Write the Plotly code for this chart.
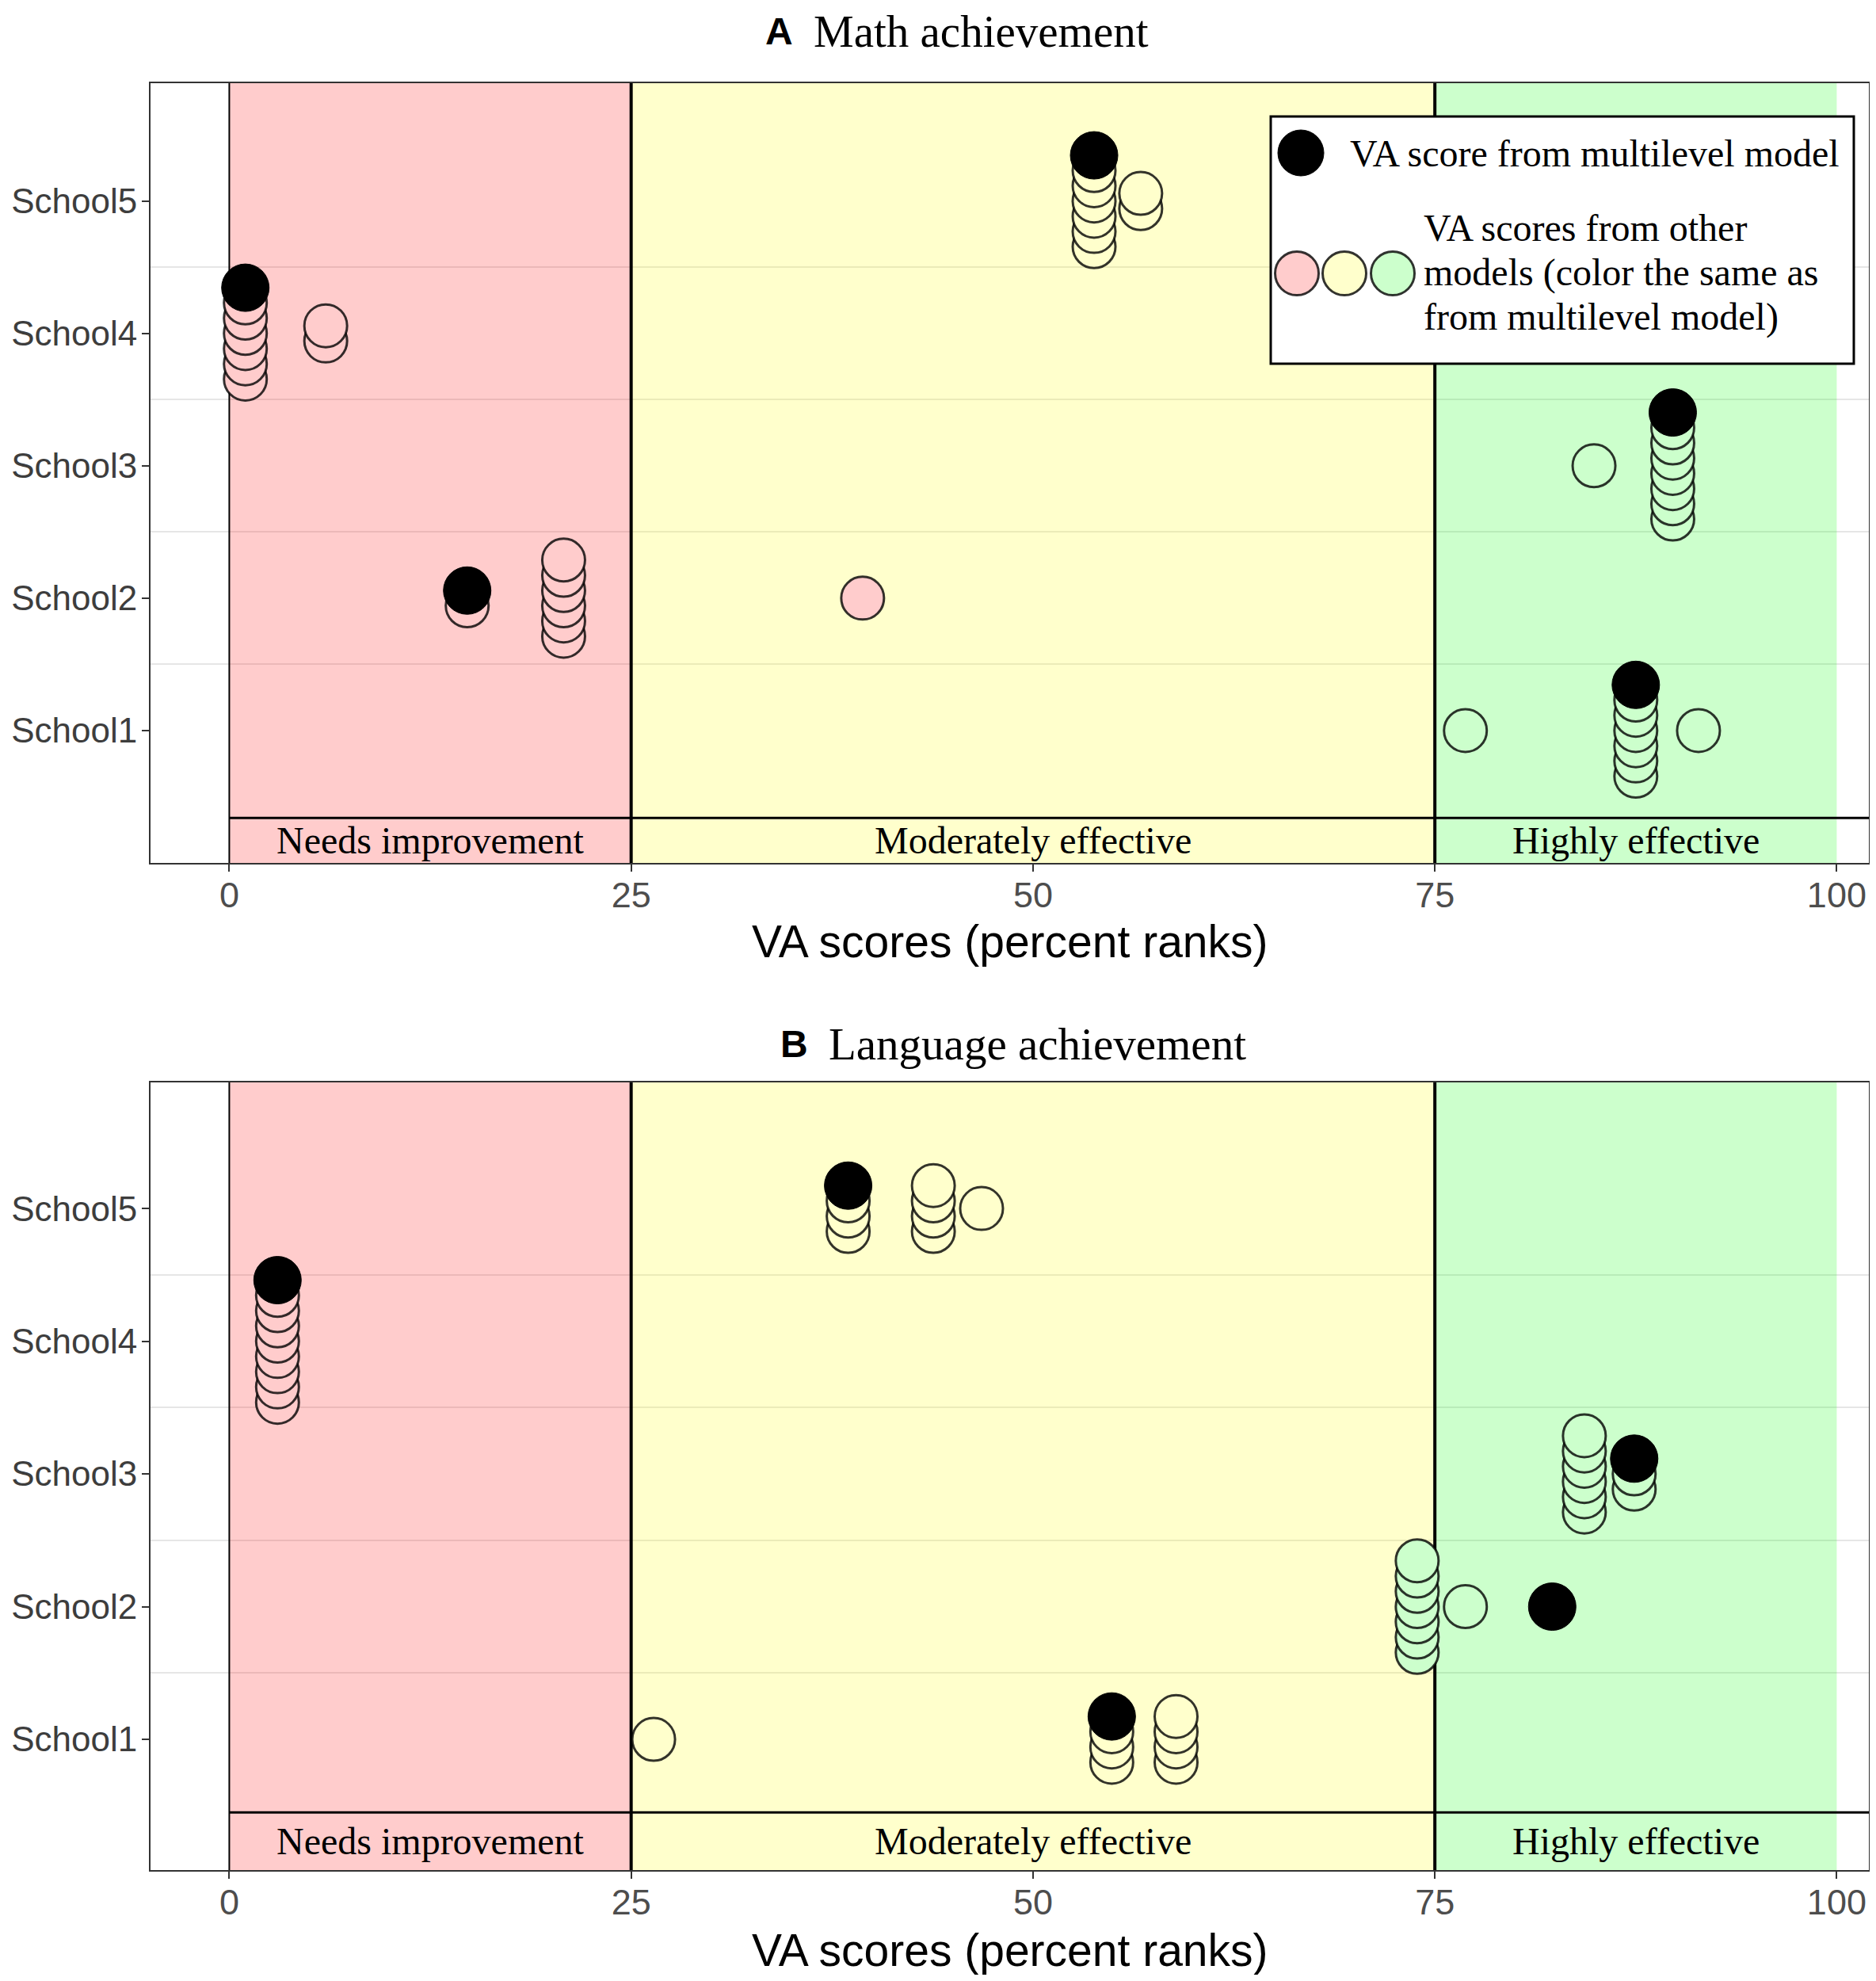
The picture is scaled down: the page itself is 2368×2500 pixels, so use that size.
import plotly.graph_objects as go
from plotly.subplots import make_subplots

# Schools (y categories) and effectiveness bands on the percent-rank axis
schools = ["School1", "School2", "School3", "School4", "School5"]
band_edges = [0, 25, 75, 100]
band_labels = ["Needs improvement", "Moderately effective", "Highly effective"]
band_colors = ["rgba(255,0,0,0.2)", "rgba(255,255,0,0.2)", "rgba(0,255,0,0.2)"]
dot_colors = ["#FFCCCC", "#FFFFCC", "#CCFFCC"]
x_ticks = [0, 25, 50, 75, 100]

# Math achievement: VA score from the multilevel model, one per school
math_multilevel = [87.5, 14.8, 89.8, 1.0, 53.8]
# VA scores from the 8 other models, per school
math_other = [
    [76.9, 87.5, 87.5, 87.5, 87.5, 87.5, 87.5, 91.4],
    [14.8, 20.8, 20.8, 20.8, 20.8, 20.8, 20.8, 39.4],
    [84.9, 89.8, 89.8, 89.8, 89.8, 89.8, 89.8, 89.8],
    [1.0, 1.0, 1.0, 1.0, 1.0, 1.0, 6.0, 6.0],
    [53.8, 53.8, 53.8, 53.8, 53.8, 53.8, 56.7, 56.7],
]

# Language achievement
lang_multilevel = [54.9, 82.3, 87.4, 3.0, 38.5]
lang_other = [
    [26.4, 54.9, 54.9, 54.9, 58.9, 58.9, 58.9, 58.9],
    [73.9, 73.9, 73.9, 73.9, 73.9, 73.9, 73.9, 76.9],
    [84.3, 84.3, 84.3, 84.3, 84.3, 84.3, 87.4, 87.4],
    [3.0, 3.0, 3.0, 3.0, 3.0, 3.0, 3.0, 3.0],
    [38.5, 38.5, 38.5, 43.8, 43.8, 43.8, 43.8, 46.8],
]

PAGE_W, PAGE_H = 2368, 2500
OFF = 8  # default body margin of the html page
W, H = PAGE_W - 2 * OFF, PAGE_H - 2 * OFF
SERIF = "Liberation Serif"
SANS = "Liberation Sans"
X_RANGE = [-4.9, 102.0]
STEP = 0.115  # vertical stacking step between equal scores


# page pixel -> paper coordinates
def px(x):
    return min(max((x - OFF) / W, 0.0), 1.0)


def py(y):
    return min(max(1 - (y - OFF) / H, 0.0), 1.0)


def band_of(v):
    for i in range(len(band_labels)):
        if v < band_edges[i + 1]:
            return i
    return len(band_labels) - 1


def stack(multi, others):
    """Stack equal scores vertically around each school, multilevel dot on top."""
    oth, blk = [], []
    for i, (m, vals) in enumerate(zip(multi, others)):
        fill = dot_colors[band_of(m)]
        for v in sorted(set(vals + [m])):
            has_black = v == m
            n = vals.count(v) + int(has_black)
            for k in range(n):
                y = i + 1 + STEP * ((n - 1) / 2 - k)
                if has_black and k == 0:
                    blk.append((v, y))
                else:
                    oth.append((v, y, fill))
    oth.sort(key=lambda t: t[1])  # draw lower circles first
    return oth, blk


panels = [
    dict(title_tag="A", title="Math achievement", multi=math_multilevel, others=math_other,
         y_range=[0.0, 5.89], strip_top=0.34, domain=[py(1089), py(105)],
         title_y=40, tag_right=1003, axis_title_y=1188),
    dict(title_tag="B", title="Language achievement", multi=lang_multilevel, others=lang_other,
         y_range=[0.015, 5.95], strip_top=0.45, domain=[py(2360), py(1366)],
         title_y=1317, tag_right=1022, axis_title_y=2461),
]

fig = make_subplots(rows=2, cols=1)
shapes, annotations = [], []

for r, p in enumerate(panels, start=1):
    xref = "x" if r == 1 else "x2"
    yref = "y" if r == 1 else "y2"
    oth, blk = stack(p["multi"], p["others"])

    fig.add_trace(go.Scatter(
        x=[t[0] for t in oth], y=[t[1] for t in oth], mode="markers",
        marker=dict(size=54, color=[t[2] for t in oth],
                    line=dict(color="rgba(0,0,0,0.8)", width=3)),
        showlegend=False, hoverinfo="skip"), row=r, col=1)
    fig.add_trace(go.Scatter(
        x=[t[0] for t in blk], y=[t[1] for t in blk], mode="markers",
        marker=dict(size=60, color="black", line=dict(color="black", width=1)),
        showlegend=False, hoverinfo="skip"), row=r, col=1)

    y0, y1 = p["y_range"]
    st = p["strip_top"]
    for i, lab in enumerate(band_labels):
        lo, hi = band_edges[i], band_edges[i + 1]
        # coloured band and its strip
        shapes.append(dict(type="rect", xref=xref, yref=yref, x0=lo, x1=hi, y0=y0, y1=y1,
                           fillcolor=band_colors[i], line=dict(width=0), layer="between"))
        annotations.append(dict(xref=xref, yref=yref, x=(lo + hi) / 2, y=(y0 + st) / 2,
                                text=lab, showarrow=False,
                                font=dict(family=SERIF, size=48, color="black")))
    # boundary lines
    shapes.append(dict(type="line", xref=xref, yref=yref, x0=0, x1=0, y0=y0, y1=y1,
                       line=dict(color="black", width=2), layer="between"))
    for b in band_edges[1:-1]:
        shapes.append(dict(type="line", xref=xref, yref=yref, x0=b, x1=b, y0=y0, y1=y1,
                           line=dict(color="black", width=4), layer="between"))
    shapes.append(dict(type="line", xref=xref, yref=yref, x0=0, x1=X_RANGE[1], y0=st, y1=st,
                       line=dict(color="black", width=3), layer="between"))

    # panel title: bold sans tag + serif title
    annotations.append(dict(xref="paper", yref="paper", x=px(p["tag_right"]), y=py(p["title_y"]),
                            xanchor="right", yanchor="middle", text="<b>" + p["title_tag"] + "</b>",
                            showarrow=False, font=dict(family=SANS, size=48, color="black")))
    annotations.append(dict(xref="paper", yref="paper", x=px(p["tag_right"] + 22), y=py(p["title_y"]),
                            xanchor="left", yanchor="middle", text=p["title"],
                            showarrow=False, font=dict(family=SERIF, size=57, color="black")))
    annotations.append(dict(xref="paper", yref="paper", x=px((190 + 2359) / 2), y=py(p["axis_title_y"]),
                            xanchor="center", yanchor="middle", text="VA scores (percent ranks)",
                            showarrow=False, font=dict(family=SANS, size=57, color="black")))

    axis_common = dict(showline=True, mirror=True, linecolor="#333333", linewidth=2,
                       ticks="outside", ticklen=9, tickwidth=2, tickcolor="#333333",
                       zeroline=False, automargin=False)
    fig.update_xaxes(range=X_RANGE, tickvals=x_ticks, showgrid=False, ticklabelstandoff=-9,
                     tickfont=dict(family=SANS, size=45, color="#4D4D4D"),
                     domain=[px(190), px(2359)], **axis_common, row=r, col=1)
    fig.update_yaxes(range=p["y_range"], tickvals=[1, 2, 3, 4, 5], ticktext=schools,
                     showgrid=False, domain=p["domain"], ticklabelstandoff=-3,
                     tickfont=dict(family=SANS, size=44, color="#3D3D3D"),
                     minor=dict(tickvals=[1.5, 2.5, 3.5, 4.5], showgrid=True,
                                gridcolor="#E6E6E6", gridwidth=2, ticks=""),
                     **axis_common, row=r, col=1)

# legend box (panel A, top right)
shapes.append(dict(type="rect", xref="paper", yref="paper", x0=px(1604), x1=px(2340),
                   y0=py(459), y1=py(147), fillcolor="white",
                   line=dict(color="black", width=3), layer="above"))


def circle(cx, cy, d, fill, line_color, lw):
    return dict(type="circle", xref="paper", yref="paper",
                x0=px(cx - d / 2), x1=px(cx + d / 2), y0=py(cy + d / 2), y1=py(cy - d / 2),
                fillcolor=fill, line=dict(color=line_color, width=lw), layer="above")


shapes.append(circle(1642, 193, 58, "black", "black", 1))
for cx, col in zip([1637, 1697, 1758], dot_colors):
    shapes.append(circle(cx, 345, 55, col, "rgba(0,0,0,0.8)", 3))

legend_lines = [("VA score from multilevel model", 1702, 193),
                ("VA scores from other", 1795, 287),
                ("models (color the same as", 1795, 344),
                ("from multilevel model)", 1795, 400)]
for txt, lx, ly in legend_lines:
    annotations.append(dict(xref="paper", yref="paper", x=px(lx), y=py(ly),
                            xanchor="left", yanchor="middle", text=txt, showarrow=False,
                            font=dict(family=SERIF, size=48, color="black")))

fig.update_layout(
    width=W, height=H,
    margin=dict(l=0, r=0, t=0, b=0),
    paper_bgcolor="white", plot_bgcolor="white",
    shapes=shapes, annotations=annotations,
    showlegend=False,
)

fig.write_html("out.html")
